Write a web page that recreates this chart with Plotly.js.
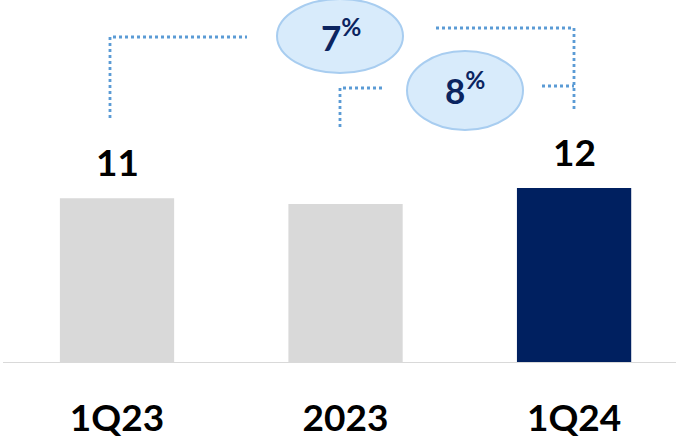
<!DOCTYPE html>
<html>
<head>
<meta charset="utf-8">
<script src="https://cdn.plot.ly/plotly-3.0.1.min.js"></script>
<style>html,body{margin:0;padding:0;background:#fff;}#chart{width:676px;height:438px;}</style>
</head>
<body>
<div id="chart"></div>
<script>
// Data
var categories = ["1Q23", "2023", "1Q24"];
var values = [11.3, 10.9, 12.0];
var valueLabels = ["11", "11", "12"];
var growthLabels = ["7", "8"];

var W = 676, H = 438, MB = 75, PH = H - MB;
function px(x) { return x / W; }
function py(y) { return 1 - y / PH; }

var barColors = ["#d9d9d9", "#d9d9d9", "#002060"];
var dotLine = {color: "#5b9bd5", width: 2.8, dash: "dot"};

function path(points) {
  return points.map(function (p, i) { return (i ? "L" : "M") + px(p[0]) + "," + py(p[1]); }).join(" ");
}

var shapes = [
  {type: "path", xref: "paper", yref: "paper", path: path([[110, 118], [110, 37], [247, 37]]), line: dotLine},
  {type: "path", xref: "paper", yref: "paper", path: path([[436, 28], [574, 28], [574, 110]]), line: dotLine},
  {type: "path", xref: "paper", yref: "paper", path: path([[340, 127], [340, 88], [384, 88]]), line: dotLine},
  {type: "path", xref: "paper", yref: "paper", path: path([[542, 86], [574, 86]]), line: dotLine},
  {type: "circle", xref: "paper", yref: "paper", x0: px(277), x1: px(403), y0: py(-1), y1: py(73),
   fillcolor: "#d8ebfb", line: {color: "#a8cdf0", width: 2}},
  {type: "circle", xref: "paper", yref: "paper", x0: px(407), x1: px(523), y0: py(51), y1: py(130),
   fillcolor: "#d8ebfb", line: {color: "#a8cdf0", width: 2}},
  {type: "line", xref: "paper", yref: "y", x0: px(3), x1: 1, y0: 0, y1: 0, layer: "above",
   line: {color: "#d9d9d9", width: 2}}
];

var annotations = [];
for (var i = 0; i < categories.length; i++) {
  annotations.push({x: categories[i], y: values[i], xref: "x", yref: "y", text: valueLabels[i],
    showarrow: false, yanchor: "middle", yshift: 37,
    font: {family: "Lato", size: 37, color: "#000000", weight: 700}});
}
var growthPos = [[341, 35], [465, 88]];
for (var j = 0; j < growthLabels.length; j++) {
  annotations.push({x: px(growthPos[j][0]), y: py(growthPos[j][1]), xref: "paper", yref: "paper",
    text: "<b>" + growthLabels[j] + "<sup>%</sup></b>", showarrow: false,
    xanchor: "center", yanchor: "middle",
    font: {family: "Lato", size: 35, color: "#0b2460"}});
}

var trace = {
  type: "bar", x: categories, y: values, width: 0.5,
  marker: {color: barColors}, hoverinfo: "none"
};

var layout = {
  width: W, height: H,
  margin: {l: 0, r: 0, t: 0, b: MB, pad: 0},
  paper_bgcolor: "#ffffff", plot_bgcolor: "#ffffff",
  showlegend: false,
  xaxis: {type: "category", range: [-0.512, 2.446], showgrid: false, zeroline: false,
    showline: false, ticks: "", ticklabelstandoff: 30,
    tickfont: {family: "Lato", size: 37, color: "#000000", weight: 700}, fixedrange: true},
  yaxis: {range: [0, 24.9], showgrid: false, zeroline: false, showline: false,
    showticklabels: false, ticks: "", fixedrange: true},
  shapes: shapes,
  annotations: annotations
};

Plotly.newPlot("chart", [trace], layout, {displayModeBar: false, staticPlot: true});
</script>
</body>
</html>
